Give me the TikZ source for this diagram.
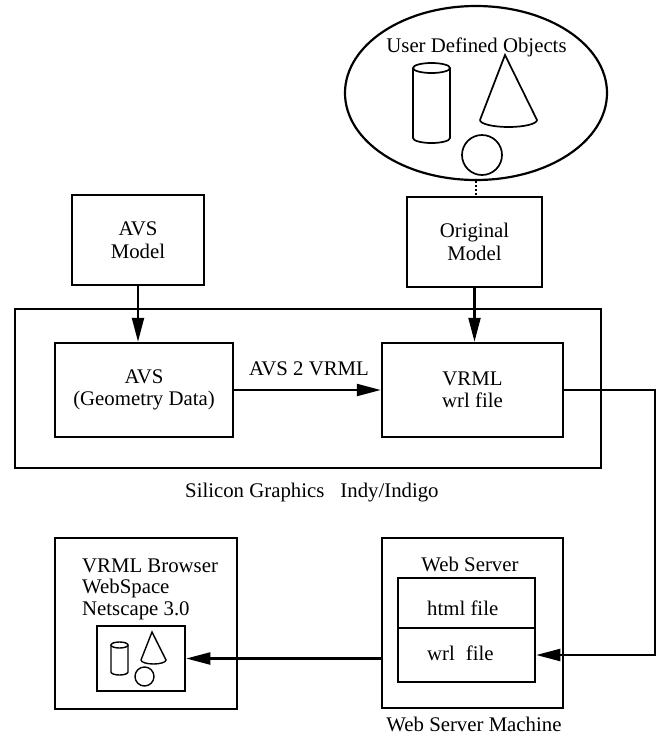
\documentclass[tikz,border=0pt]{standalone}
\usepackage{fontspec}
\setmainfont{Liberation Serif}
\usetikzlibrary{arrows.meta,shapes.geometric}
\newcommand\diagfont{\fontsize{20.8}{22.5}\selectfont}
\begin{document}
\begin{tikzpicture}[x=1pt,y=-1pt,
  every node/.style={font=\diagfont, inner sep=0pt},
  frame/.style={draw, rectangle, line width=2.5pt},
  box/.style={frame, align=center},
  flow/.style={line width=2.2pt, -{Triangle[length=24pt,width=12pt]}},
  solid3d/.style={line width=1.7pt},
  small3d/.style={line width=1.4pt},
  lbl/.style={anchor=base}
]
\useasboundingbox (0,0) rectangle (661,737);

% --- user defined objects (top ellipse)
\node[draw, ellipse, line width=2.2pt, minimum width=262pt, minimum height=174pt] (objs) at (476,93) {};
\node[lbl] (objstitle) at (476.5,52) {User Defined Objects};
% cylinder
\draw[solid3d] (431.5,68) ellipse [x radius=18.5, y radius=5];
\draw[solid3d] (413,68) -- (413,138) arc [start angle=180, end angle=0, x radius=18.5, y radius=5] -- (450,68);
% cone
\draw[solid3d] (480,120) -- (505,55) -- (537,120)
  arc [start angle=0, end angle=180, x radius=28.5, y radius=7];
% sphere
\draw[solid3d] (482,155) circle [radius=20];

% --- model boxes
\node[box, minimum width=132pt, minimum height=90pt] (avsmodel) at (138,240) {AVS\\Model};
\node[box, minimum width=135pt, minimum height=90pt] (origmodel) at (474.5,242) {Original\\Model};
\draw[dotted, line width=2pt] (objs.south) -- (objs.south |- origmodel.north);

% --- Silicon Graphics workstation
\node[frame, minimum width=586pt, minimum height=159pt] (sgi) at (308,388.5) {};
\node[anchor=base west] (sgilabel) at (185,497) {Silicon Graphics\hspace{16pt}Indy/Indigo};
\node[box, minimum width=178pt, minimum height=94pt] (avs) at (144,390) {AVS\\(Geometry Data)};
\node[box, minimum width=181pt, minimum height=94pt] (vrml) at (472.5,390) {VRML\\wrl file};
\draw[flow] (avsmodel.south) -- (avsmodel.south |- avs.north);
\draw[flow] (origmodel.south) -- (origmodel.south |- vrml.north);
\draw[flow] (avs.east) -- (vrml.west);
\node[lbl] (convlabel) at (309,375) {AVS 2 VRML};

% --- web server machine
\node[frame, minimum width=181pt, minimum height=170pt] (ws) at (472.5,623) {};
\node[lbl] (wstitle) at (470,571) {Web Server};
\node[frame, minimum width=137pt, minimum height=50pt] (html) at (466.5,603) {};
\node[frame, minimum width=137pt, minimum height=54pt] (wrl) at (466.5,655) {};
\node[anchor=base west] (htmltxt) at (427,615) {html file};
\node[anchor=base west] (wrltxt) at (427,660) {wrl\hspace{11pt}file};
\node[lbl] (wslabel) at (474,731) {Web Server Machine};

\coordinate (turnA) at (655,390);
\coordinate (turnB) at (655,655);
\draw[flow] (vrml.east) -- (turnA) -- (turnB) -- (wrl.east);

% --- VRML browser
\node[frame, minimum width=182pt, minimum height=171pt] (browser) at (146,623.5) {};
\node[anchor=base west] (brA) at (82,572) {VRML Browser};
\node[anchor=base west] (brB) at (82,593.5) {WebSpace};
\node[anchor=base west] (brC) at (82,615) {Netscape 3.0};
\node[frame, minimum width=88pt, minimum height=65pt] (view) at (141,658.5) {};
% miniature objects
\draw[small3d] (119.5,645) ellipse [x radius=8.5, y radius=3];
\draw[small3d] (111,645) -- (111,672) arc [start angle=180, end angle=0, x radius=8.5, y radius=3] -- (128,645);
\draw[small3d] (141,660) -- (152,632) -- (166,660)
  arc [start angle=0, end angle=180, x radius=12.5, y radius=4];
\draw[small3d] (144.5,676.5) circle [radius=9.5];
\draw[flow] (view.east -| ws.west) -- (view.east);

\end{tikzpicture}
\end{document}
